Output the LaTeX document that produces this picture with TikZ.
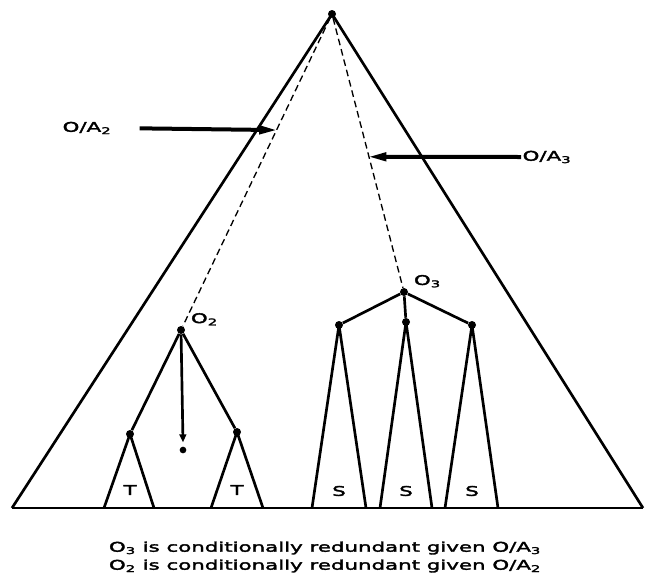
\documentclass[tikz,border=0pt]{standalone}
\usepackage{fontspec}
\setmainfont[FakeStretch=1.6,FakeBold=2.5]{DejaVu Sans}
\usetikzlibrary{arrows.meta,positioning}

\begin{document}
\begin{tikzpicture}[x=0.75pt,y=-0.75pt,font=\fontsize{10}{13.5}\selectfont,
  dot/.style={circle,fill,inner sep=0pt,minimum size=6pt},
  edge/.style={line width=2pt,line join=round},
  dsh/.style={dashed,line width=1pt,dash pattern=on 5pt off 3pt},
  arr/.style={-{Triangle[length=14pt,width=6pt]},line width=3pt,shorten >=-1pt},
  tag/.style={inner sep=1pt}]
\useasboundingbox (0,0) rectangle (649,586);
% whole tree
\node[dot] (top) at (332,14) {};
\coordinate (bl) at (12,508);
\coordinate (br) at (643,508);
\draw[edge] (bl) -- (top.center) -- (br);
\draw[edge] (bl) -- (br);
% the two subtree roots
\node[dot] (o2) at (181,330) {};
\node[tag,above right=0pt and 4pt of o2] {O\textsubscript{2}};
\node[dot] (o3) at (404,292) {};
\node[tag,above right=0pt and 4pt of o3] {O\textsubscript{3}};
\draw[dsh] (top) -- (o2) coordinate[pos=0.364] (hit2);
\draw[dsh] (top) -- (o3) coordinate[pos=0.514] (hit3);
% O/A arrows
\node[tag] (oa2) at (87,128) {O/A\textsubscript{2}};
\node[tag] (oa3) at (547,157) {O/A\textsubscript{3}};
\draw[arr,shorten <=20pt] (oa2.east) -- (hit2);
\draw[arr] (oa3.west) -- (hit3);
% below O2
\node[dot] (t1) at (130,434) {};
\node[dot] (t2) at (237,432) {};
\coordinate (t1l) at (104,508); \coordinate (t1r) at (154,508);
\coordinate (t2l) at (211,508); \coordinate (t2r) at (263,508);
\draw[edge] (o2) -- (t1);
\draw[edge] (o2) -- (t2);
\draw[edge] (t1l) -- (t1.center) -- (t1r);
\draw[edge] (t2l) -- (t2.center) -- (t2r);
\node at (130,490) {T};
\node at (237,490) {T};
\node[dot,minimum size=5pt] (leaf) at (183,450) {};
\draw[edge,-{Triangle[length=6pt,width=5pt]}] (o2) -- ([yshift=3pt]leaf.north);
% below O3
\foreach \n/\x/\y/\l/\r in {1/339/325/312/366, 2/406/322/380/432, 3/472/325/445/498} {
  \node[dot] (s\n) at (\x,\y) {};
  \coordinate (s\n l) at (\l,508);
  \coordinate (s\n r) at (\r,508);
  \draw[edge] (o3) -- (s\n);
  \draw[edge] (s\n l) -- (s\n.center) -- (s\n r);
  \node at (\x,491) {S};
}
% caption
\node[align=center] (cap) at (325,557) {O\textsubscript{3} is conditionally redundant given O/A\textsubscript{3}\\
  O\textsubscript{2} is conditionally redundant given O/A\textsubscript{2}};
\end{tikzpicture}
\end{document}
